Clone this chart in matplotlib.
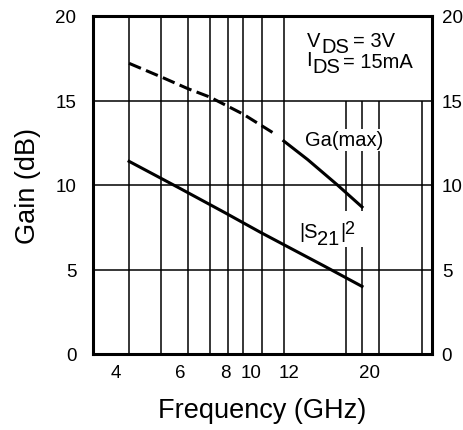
import numpy as np
import matplotlib.pyplot as plt
from matplotlib.patches import Rectangle

plt.rcParams['font.family'] = ['Liberation Sans', 'DejaVu Sans']

# data
s21_freq = [4.345, 6.0, 8.0, 10.0, 12.0, 15.0, 19.05]
s21_gain = [11.4, 9.8, 8.35, 7.2, 6.3, 5.2, 4.0]

ga_dash_freq = [4.345, 5.32, 6.31, 7.26, 8.95, 11.0]
ga_dash_gain = [17.2, 16.4, 15.7, 15.2, 14.2, 13.0]
ga_solid_freq = [11.6, 13.5, 16.3, 19.05]
ga_solid_gain = [12.6, 11.5, 10.0, 8.7]

grid_full = [4.345, 5.32, 6.31, 7.26, 8.14, 8.95, 10.09, 11.6]
grid_low = [17.2, 19.05, 21.2, 27.9]
xtick_pos = [4, 6, 8, 9.45, 12, 20]
xtick_lab = ['4', '6', '8', '10', '12', '20']
yticks = [0, 5, 10, 15, 20]

W, H = 464, 431
fig = plt.figure(figsize=(W / 100, H / 100), dpi=100)
ax = fig.add_axes([93 / W, 1 - 355 / H, (432 - 93) / W, (355 - 17) / H])

ax.set_xscale('log')
ax.set_xlim(3.456, 29.7)
ax.set_ylim(0, 20)

# grid
ax.vlines(grid_full, 0, 20, color='black', lw=1.1, zorder=1)
ax.vlines(grid_low, 0, 15, color='black', lw=1.1, zorder=1)
ax.hlines([5, 10, 15], 3.456, 29.7, color='black', lw=1.1, zorder=1)

# curves
ax.plot(s21_freq, s21_gain, color='black', lw=2.2, zorder=4)
ax.plot(ga_dash_freq, ga_dash_gain, color='black', lw=2.2, ls=(0, (4.2, 1.8)), zorder=4)
ax.plot(ga_solid_freq, ga_solid_gain, color='black', lw=2.2, zorder=4)

for sp in ax.spines.values():
    sp.set_linewidth(2.2)

ax.xaxis.set_minor_locator(plt.NullLocator())
ax.set_xticks(xtick_pos)
ax.set_xticklabels(xtick_lab)
ax.set_yticks(yticks)
ax.tick_params(axis='both', length=0, labelsize=13.5)
ax.tick_params(axis='x', pad=7)
ax.tick_params(axis='y', pad=12)

ax2 = ax.twinx()
ax2.set_ylim(0, 20)
ax2.set_yticks(yticks)
ax2.tick_params(axis='y', length=0, labelsize=13.5, pad=7)
for sp in ax2.spines.values():
    sp.set_visible(False)

ax.set_xlabel('Frequency (GHz)', fontsize=19.5, labelpad=12)
ax.set_ylabel('Gain (dB)', fontsize=19.5, labelpad=10)

# curve labels
ax.text((344 - 93) / 339, (355 - 141) / 338, 'Ga(max)', transform=ax.transAxes,
        fontsize=14.5, ha='center', va='center', zorder=3,
        bbox=dict(facecolor='white', edgecolor='none', pad=1))

ax.add_patch(Rectangle(((297 - 93) / 339, (355 - 248) / 338), 69 / 339, 36 / 338,
                       transform=ax.transAxes, facecolor='white', edgecolor='none', zorder=2))


def ptxt(x, y, s, size=14.5):
    fig.text(x / W, 1 - y / H, s, fontsize=size, ha='left', va='baseline', zorder=5)


ptxt(299, 238, '|S')
ptxt(317, 245, '21')
ptxt(340, 238, '|')
ptxt(344, 234, '2', 13)

ptxt(307, 47, 'V')
ptxt(321, 53, 'DS')
ptxt(353, 47, '= 3V')
ptxt(306, 66, 'I')
ptxt(312, 73, 'DS')
ptxt(343, 68, '= 15mA')

fig.savefig('out.png', dpi=100)
